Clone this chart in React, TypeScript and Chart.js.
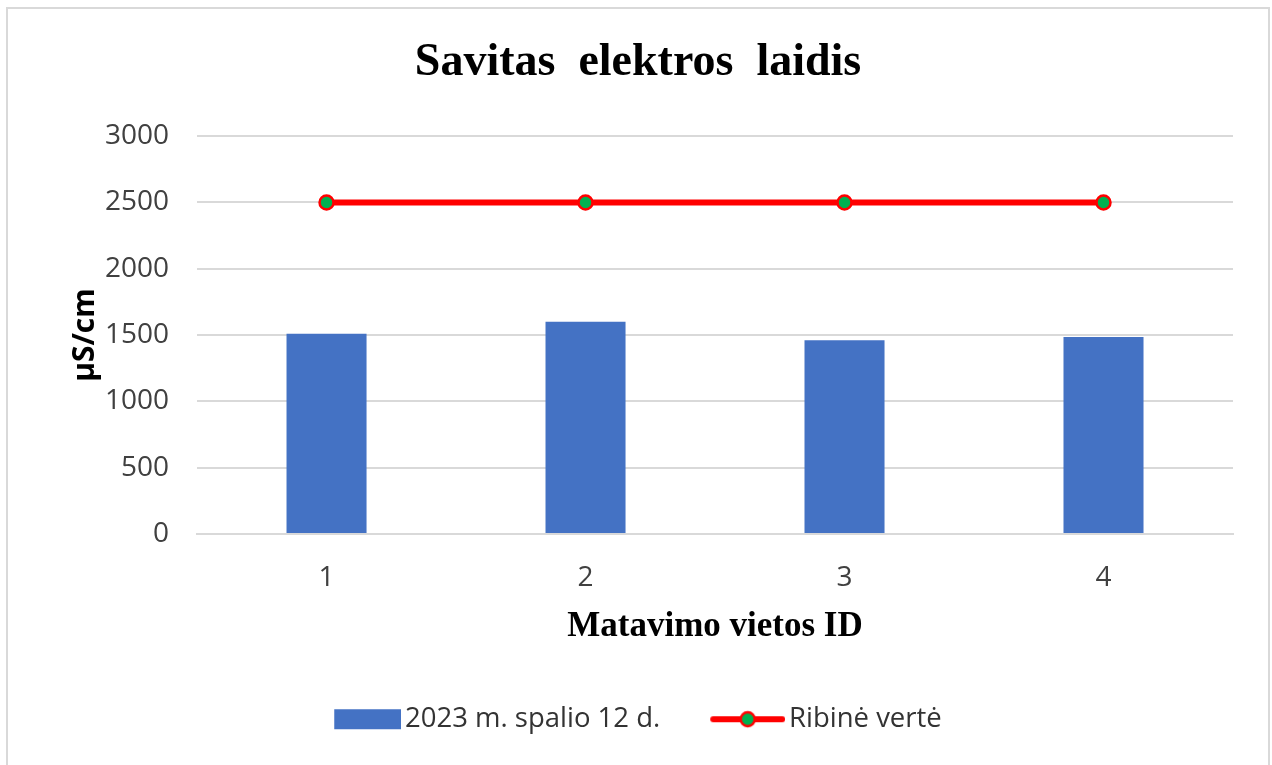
import React, { useEffect, useRef } from "react";
import { Chart, registerables } from "chart.js";

Chart.register(...registerables);

const categories = ["1", "2", "3", "4"];
const measuredValues = [1510, 1600, 1460, 1485];
const limitValues = [2500, 2500, 2500, 2500];
const seriesNames = ["2023 m. spalio 12 d.", "Ribinė vertė"];
const yTicks = { min: 0, max: 3000, step: 500 };
const chartTitle = "Savitas  elektros  laidis";
const xTitle = "Matavimo vietos ID";
const yTitle = "μS/cm";

const BLUE = "#4472C4";
const RED = "#FF0000";
const GREEN = "#00B050";

function makeBarSymbol(): HTMLCanvasElement {
  const c = document.createElement("canvas");
  c.width = 77;
  c.height = 24;
  const ctx = c.getContext("2d")!;
  ctx.fillStyle = BLUE;
  ctx.fillRect(10, 2, 67, 20);
  return c;
}

function makeLineSymbol(): HTMLCanvasElement {
  const c = document.createElement("canvas");
  c.width = 77;
  c.height = 24;
  const ctx = c.getContext("2d")!;
  ctx.strokeStyle = RED;
  ctx.lineWidth = 6;
  ctx.lineCap = "round";
  ctx.beginPath();
  ctx.moveTo(5, 12);
  ctx.lineTo(74, 12);
  ctx.stroke();
  ctx.beginPath();
  ctx.arc(39.5, 12, 7, 0, Math.PI * 2);
  ctx.fillStyle = GREEN;
  ctx.fill();
  ctx.lineWidth = 2.5;
  ctx.strokeStyle = RED;
  ctx.stroke();
  return c;
}

export default function App() {
  const ref = useRef<HTMLCanvasElement | null>(null);

  useEffect(() => {
    if (!ref.current) return;
    const symbols = [makeBarSymbol(), makeLineSymbol()];
    const chart = new Chart(ref.current, {
      type: "bar",
      data: {
        labels: categories,
        datasets: [
          {
            type: "bar",
            label: seriesNames[0],
            data: measuredValues,
            backgroundColor: BLUE,
            borderWidth: 0,
            categoryPercentage: 1,
            barPercentage: 0.309,
            order: 2,
          },
          {
            type: "line",
            label: seriesNames[1],
            data: limitValues,
            borderColor: RED,
            borderWidth: 6,
            pointRadius: 7,
            pointBorderWidth: 2.5,
            pointBackgroundColor: GREEN,
            pointBorderColor: RED,
            fill: false,
            order: 1,
          } as any,
        ],
      },
      options: {
        responsive: false,
        animation: false,
        devicePixelRatio: 1,
        layout: { padding: { left: 43, right: 39, top: 0, bottom: 22 } },
        plugins: {
          title: {
            display: true,
            text: chartTitle,
            color: "#000000",
            font: { family: "'Liberation Serif', 'Times New Roman', serif", size: 46, weight: "bold", lineHeight: 1.2 },
            padding: { top: 36, bottom: 45 },
          },
          legend: {
            display: true,
            position: "bottom",
            labels: {
              usePointStyle: true,
              pointStyleWidth: 57,
              padding: 58,
              color: "#333333",
              font: { family: "'Open Sans', sans-serif", size: 27.5 },
              generateLabels: () =>
                seriesNames.map((name, i) => ({
                  text: name,
                  fillStyle: i === 0 ? BLUE : GREEN,
                  strokeStyle: i === 0 ? BLUE : RED,
                  lineWidth: 0,
                  pointStyle: symbols[i] as any,
                  hidden: false,
                  datasetIndex: i,
                  fontColor: "#333333",
                })),
            },
          },
          tooltip: { enabled: false },
        },
        scales: {
          x: {
            grid: { display: false, drawTicks: false },
            border: { display: true, color: "#D9D9D9", width: 2 },
            ticks: {
              padding: 27,
              color: "#404040",
              font: { family: "'Open Sans', sans-serif", size: 28, lineHeight: 1.2 },
            },
            title: {
              display: true,
              text: xTitle,
              color: "#000000",
              font: { family: "'Liberation Serif', 'Times New Roman', serif", size: 35, weight: "bold", lineHeight: 1.2 },
              padding: { top: -16, bottom: 0 },
            },
          },
          y: {
            min: yTicks.min,
            max: yTicks.max,
            grid: { color: "#D9D9D9", lineWidth: 2, drawTicks: false },
            border: { display: false },
            ticks: {
              stepSize: yTicks.step,
              padding: 28,
              color: "#404040",
              font: { family: "'Open Sans', sans-serif", size: 28, lineHeight: 1.2 },
              callback: (v: any) => String(v),
            },
            title: {
              display: true,
              text: yTitle,
              color: "#000000",
              font: { family: "'Open Sans', sans-serif", size: 30, weight: "bold", lineHeight: 1.2 },
              padding: { top: 24, bottom: -26 },
            },
          },
        },
      },
    });
    return () => chart.destroy();
  }, []);

  return (
    <div style={{ position: "fixed", left: 0, top: 0, width: 1272, height: 765, background: "#ffffff", overflow: "hidden" }}>
      <div
        style={{
          position: "absolute",
          left: 6,
          top: 7,
          width: 1264,
          height: 800,
          border: "2px solid #D9D9D9",
          boxSizing: "border-box",
        }}
      />
      <canvas ref={ref} width={1272} height={765} style={{ position: "absolute", left: 0, top: 0, width: 1272, height: 765 }} />
    </div>
  );
}
